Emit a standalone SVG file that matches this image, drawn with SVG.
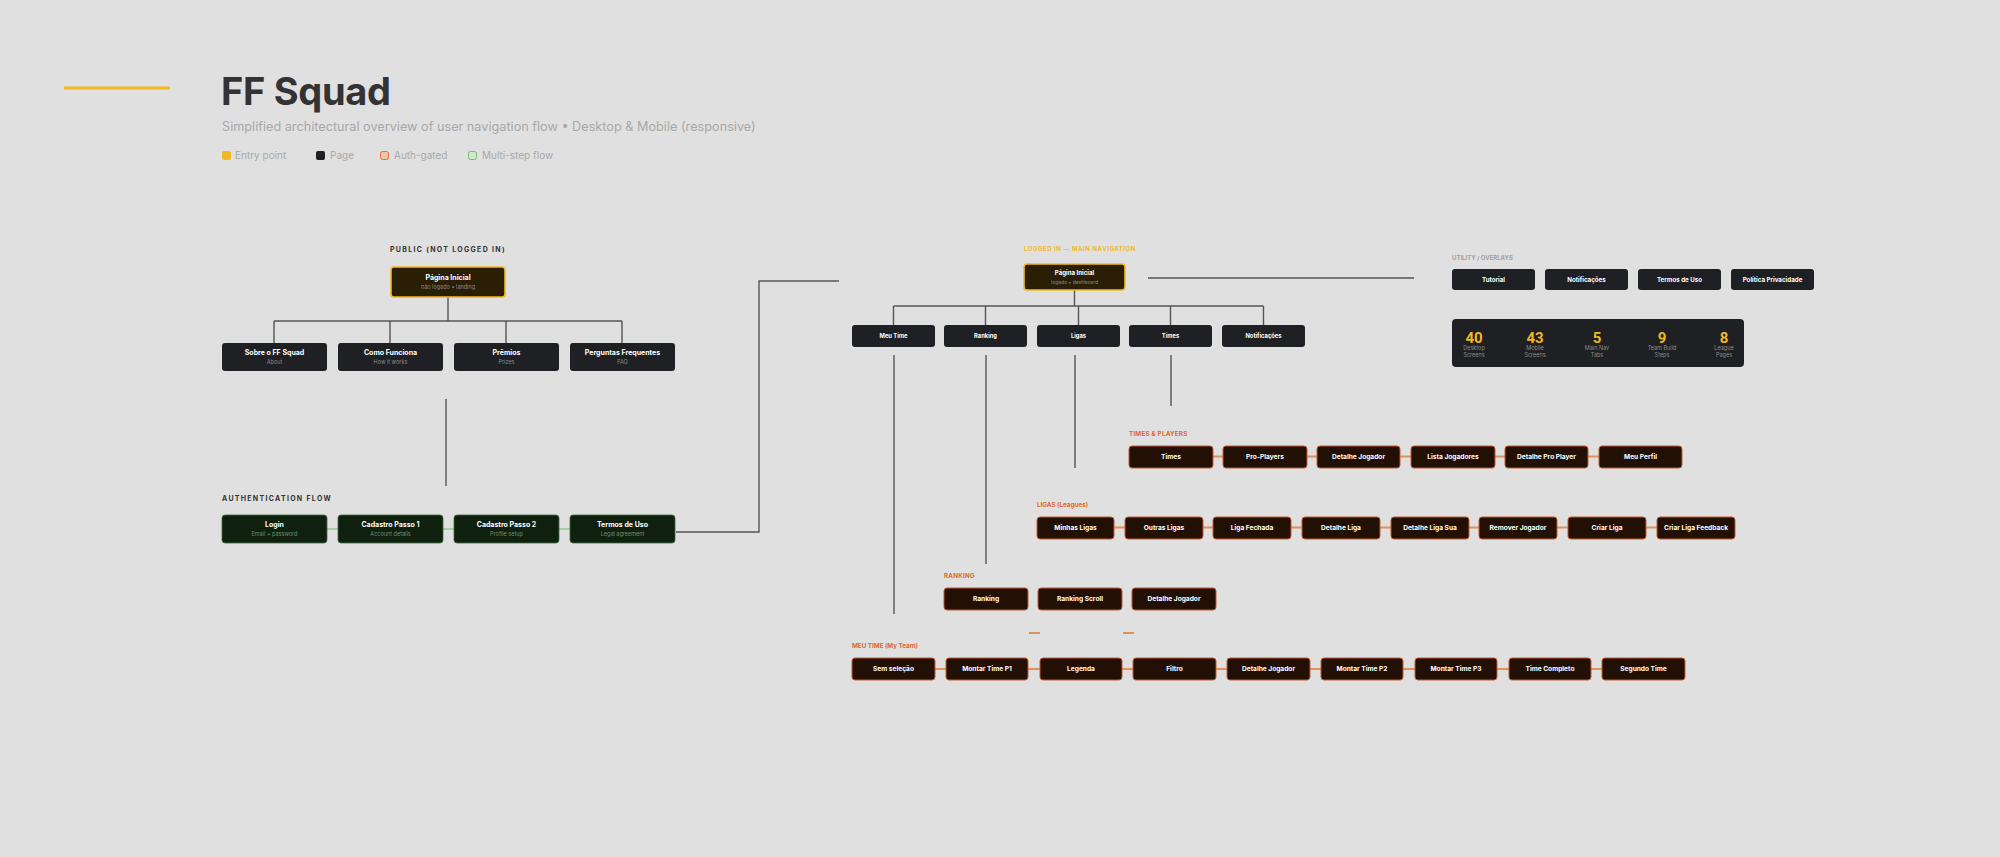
<svg xmlns="http://www.w3.org/2000/svg" width="2000" height="857" viewBox="0 0 2000 857">
<style>
text{font-family:Inter,"Noto Sans","Liberation Sans",sans-serif}
.title{font-size:38px;font-weight:700;fill:#333;letter-spacing:-0.3px}
.sub{font-size:12.7px;fill:#a8a8a8}
.leg{font-size:10px;fill:#a8a8a8}
.sec{font-size:7px;font-weight:700;letter-spacing:1.3px}
.secd{fill:#333}
.secy{fill:#f2b824}
.secg{fill:#a0a0a0}
.seco{fill:#e0672a;letter-spacing:0.2px}
.page{fill:#1f2023}
.entry{fill:#2a1f04;stroke:#f2b824;stroke-width:1.6}
.auth{fill:#0f200f;stroke:#3d6b3d;stroke-width:0.8}
.sub-node{fill:#231005;stroke:#c4582a;stroke-width:1}
.nt{font-size:7px;font-weight:700;fill:#fff;text-anchor:middle}
.ns{font-size:5.5px;fill:#8a8a8a;text-anchor:middle}
.nsg{font-size:5.5px;fill:#6f8f6f;text-anchor:middle}
.nn{font-size:5.8px;font-weight:700;fill:#fff;text-anchor:middle}
.nt7{font-size:6.6px;font-weight:700;fill:#fff;text-anchor:middle}
.nu{font-size:6.2px;font-weight:700;fill:#fff;text-anchor:middle}
.num{font-family:"Liberation Sans Narrow",Roboto,sans-serif;font-size:15px;font-weight:700;fill:#f2b824;text-anchor:middle}
.sl{font-size:5.5px;fill:#8a8a8a;text-anchor:middle}
.ln{stroke:#555;stroke-width:1.4;fill:none}
.lg{stroke:#8fcc8f;stroke-width:1.6;fill:none}
.lo{stroke:#e0905a;stroke-width:1.8;fill:none}
</style>
<rect width="2000" height="857" fill="#e0e0e0"/>

<g id="header">
<rect x="64" y="86.5" width="106" height="3" fill="#f2b824"/>
<text class="title" x="221" y="105">FF Squad</text>
<text class="sub" x="222" y="131">Simplified architectural overview of user navigation flow • Desktop &amp; Mobile (responsive)</text>
<rect x="222" y="151" width="9" height="9" rx="2" fill="#f2b824"/>
<text class="leg" x="235" y="159">Entry point</text>
<rect x="316" y="151" width="9" height="9" rx="2" fill="#1f2023"/>
<text class="leg" x="330" y="159">Page</text>
<rect x="380.5" y="151.5" width="8" height="8" rx="2" fill="#f0c4a8" stroke="#e07040" stroke-width="1"/>
<text class="leg" x="394" y="159">Auth-gated</text>
<rect x="468.5" y="151.5" width="8" height="8" rx="2" fill="#cfe8cf" stroke="#6fbf6f" stroke-width="1"/>
<text class="leg" x="482" y="159">Multi-step flow</text>
</g>

<g id="connectors">
<path class="ln" d="M448 297V321M274 321H622M274 321V343M390 321V343M506 321V343M622 321V343"/>
<path class="ln" d="M446 399V486"/>
<path class="lg" d="M327 529H338M443 529H454M559 529H570"/>
<path class="ln" d="M676 532H759V281H839"/>
<path class="ln" d="M1148 278H1414"/>
<path class="ln" d="M1074.5 290V306M893.5 306H1263.5M893.5 306V325M985.5 306V325M1078.5 306V325M1170.5 306V325M1263.5 306V325"/>
<path class="ln" d="M894 355V614M986 355V564M1075 355V468M1171 355V406"/>
<path class="lo" d="M1213 456.5H1223M1307 456.5H1317M1400 456.5H1411M1495 456.5H1505M1588 456.5H1599"/>
<path class="lo" d="M1114 527.5H1125M1203 527.5H1213M1291 527.5H1302M1380 527.5H1391M1469 527.5H1479M1557 527.5H1568M1646 527.5H1657"/>
<path class="lo" d="M1029 633H1040M1123 633H1134"/>
<path class="lo" d="M935 669H946M1028 669H1040M1122 669H1133M1216 669H1227M1310 669H1321M1403 669H1415M1497 669H1509M1591 669H1602"/>
</g>

<g id="public">
<text class="sec secd" x="390" y="252">PUBLIC (NOT LOGGED IN)</text>
<g id="p-home"><rect class="entry" x="391" y="267" width="114" height="30" rx="3"/><text class="nt" x="448" y="280">Página Inicial</text><text class="ns" x="448" y="289">não logado • landing</text></g>
<g id="p-sobre"><rect class="page" x="222" y="343" width="105" height="28" rx="3"/><text class="nt" x="274.5" y="355">Sobre o FF Squad</text><text class="ns" x="274.5" y="364">About</text></g>
<g id="p-como"><rect class="page" x="338" y="343" width="105" height="28" rx="3"/><text class="nt" x="390.5" y="355">Como Funciona</text><text class="ns" x="390.5" y="364">How it works</text></g>
<g id="p-premios"><rect class="page" x="454" y="343" width="105" height="28" rx="3"/><text class="nt" x="506.5" y="355">Prêmios</text><text class="ns" x="506.5" y="364">Prizes</text></g>
<g id="p-faq"><rect class="page" x="570" y="343" width="105" height="28" rx="3"/><text class="nt" x="622.5" y="355">Perguntas Frequentes</text><text class="ns" x="622.5" y="364">FAQ</text></g>
</g>

<g id="auth">
<text class="sec secd" x="222" y="501">AUTHENTICATION FLOW</text>
<g id="a-login"><rect class="auth" x="222" y="515" width="105" height="28" rx="3"/><text class="nt" x="274.5" y="527">Login</text><text class="nsg" x="274.5" y="536">Email + password</text></g>
<g id="a-cad1"><rect class="auth" x="338" y="515" width="105" height="28" rx="3"/><text class="nt" x="390.5" y="527">Cadastro Passo 1</text><text class="nsg" x="390.5" y="536">Account details</text></g>
<g id="a-cad2"><rect class="auth" x="454" y="515" width="105" height="28" rx="3"/><text class="nt" x="506.5" y="527">Cadastro Passo 2</text><text class="nsg" x="506.5" y="536">Profile setup</text></g>
<g id="a-termos"><rect class="auth" x="570" y="515" width="105" height="28" rx="3"/><text class="nt" x="622.5" y="527">Termos de Uso</text><text class="nsg" x="622.5" y="536">Legal agreement</text></g>
</g>

<g id="main-nav">
<text class="sec secy" x="1024" y="251" style="font-size:6px;letter-spacing:0.55px">LOGGED IN — MAIN NAVIGATION</text>
<g id="m-home"><rect class="entry" x="1024" y="264" width="101" height="26" rx="3"/><text class="nt" x="1074.5" y="275" style="font-size:6.1px">Página Inicial</text><text class="ns" x="1074.5" y="284" style="font-size:5px">logado • dashboard</text></g>
<g id="n-meutime"><rect class="page" x="852" y="325" width="83" height="22" rx="3"/><text class="nn" x="893.5" y="338">Meu Time</text></g>
<g id="n-ranking"><rect class="page" x="944" y="325" width="83" height="22" rx="3"/><text class="nn" x="985.5" y="338">Ranking</text></g>
<g id="n-ligas"><rect class="page" x="1037" y="325" width="83" height="22" rx="3"/><text class="nn" x="1078.5" y="338">Ligas</text></g>
<g id="n-times"><rect class="page" x="1129" y="325" width="83" height="22" rx="3"/><text class="nn" x="1170.5" y="338">Times</text></g>
<g id="n-notif"><rect class="page" x="1222" y="325" width="83" height="22" rx="3"/><text class="nn" x="1263.5" y="338">Notificações</text></g>
</g>

<g id="utility">
<text class="sec secg" x="1452" y="260" style="letter-spacing:0;font-size:6px">UTILITY / OVERLAYS</text>
<g id="u-tutorial"><rect class="page" x="1452" y="269" width="83" height="21" rx="3"/><text class="nu" x="1493.5" y="281.5">Tutorial</text></g>
<g id="u-notif"><rect class="page" x="1545" y="269" width="83" height="21" rx="3"/><text class="nu" x="1586.5" y="281.5">Notificações</text></g>
<g id="u-termos"><rect class="page" x="1638" y="269" width="83" height="21" rx="3"/><text class="nu" x="1679.5" y="281.5">Termos de Uso</text></g>
<g id="u-politica"><rect class="page" x="1731" y="269" width="83" height="21" rx="3"/><text class="nu" x="1772.5" y="281.5">Política Privacidade</text></g>
<g id="stats">
<rect class="page" x="1452" y="319" width="292" height="48" rx="4"/>
<text class="num" x="1474" y="343">40</text><text class="sl" x="1474" y="350">Desktop</text><text class="sl" x="1474" y="356.5">Screens</text>
<text class="num" x="1535" y="343">43</text><text class="sl" x="1535" y="350">Mobile</text><text class="sl" x="1535" y="356.5">Screens</text>
<text class="num" x="1597" y="343">5</text><text class="sl" x="1597" y="350">Main Nav</text><text class="sl" x="1597" y="356.5">Tabs</text>
<text class="num" x="1662" y="343">9</text><text class="sl" x="1662" y="350">Team Build</text><text class="sl" x="1662" y="356.5">Steps</text>
<text class="num" x="1724" y="343">8</text><text class="sl" x="1724" y="350">League</text><text class="sl" x="1724" y="356.5">Pages</text>
</g>
</g>

<g id="times-players">
<text class="sec seco" x="1129" y="436" style="font-size:6.3px">TIMES &amp; PLAYERS</text>
<g id="t1"><rect class="sub-node" x="1129" y="446" width="84" height="22" rx="3"/><text class="nt7" x="1171" y="459.3">Times</text></g>
<g id="t2"><rect class="sub-node" x="1223" y="446" width="84" height="22" rx="3"/><text class="nt7" x="1265" y="459.3">Pro-Players</text></g>
<g id="t3"><rect class="sub-node" x="1317" y="446" width="83" height="22" rx="3"/><text class="nt7" x="1358.5" y="459.3">Detalhe Jogador</text></g>
<g id="t4"><rect class="sub-node" x="1411" y="446" width="84" height="22" rx="3"/><text class="nt7" x="1453" y="459.3">Lista Jogadores</text></g>
<g id="t5"><rect class="sub-node" x="1505" y="446" width="83" height="22" rx="3"/><text class="nt7" x="1546.5" y="459.3">Detalhe Pro Player</text></g>
<g id="t6"><rect class="sub-node" x="1599" y="446" width="83" height="22" rx="3"/><text class="nt7" x="1640.5" y="459.3">Meu Perfil</text></g>
</g>

<g id="ligas">
<text class="sec seco" x="1037" y="507" style="font-size:6.3px;letter-spacing:0">LIGAS (Leagues)</text>
<g id="l1"><rect class="sub-node" x="1037" y="517" width="77" height="22" rx="3"/><text class="nt7" x="1075.5" y="530.3">Minhas Ligas</text></g>
<g id="l2"><rect class="sub-node" x="1125" y="517" width="78" height="22" rx="3"/><text class="nt7" x="1164" y="530.3">Outras Ligas</text></g>
<g id="l3"><rect class="sub-node" x="1213" y="517" width="78" height="22" rx="3"/><text class="nt7" x="1252" y="530.3">Liga Fechada</text></g>
<g id="l4"><rect class="sub-node" x="1302" y="517" width="78" height="22" rx="3"/><text class="nt7" x="1341" y="530.3">Detalhe Liga</text></g>
<g id="l5"><rect class="sub-node" x="1391" y="517" width="78" height="22" rx="3"/><text class="nt7" x="1430" y="530.3">Detalhe Liga Sua</text></g>
<g id="l6"><rect class="sub-node" x="1479" y="517" width="78" height="22" rx="3"/><text class="nt7" x="1518" y="530.3">Remover Jogador</text></g>
<g id="l7"><rect class="sub-node" x="1568" y="517" width="78" height="22" rx="3"/><text class="nt7" x="1607" y="530.3">Criar Liga</text></g>
<g id="l8"><rect class="sub-node" x="1657" y="517" width="78" height="22" rx="3"/><text class="nt7" x="1696" y="530.3">Criar Liga Feedback</text></g>
</g>

<g id="ranking">
<text class="sec seco" x="944" y="578" style="font-size:6.3px">RANKING</text>
<g id="r1"><rect class="sub-node" x="944" y="588" width="84" height="22" rx="3"/><text class="nt7" x="986" y="601.3">Ranking</text></g>
<g id="r2"><rect class="sub-node" x="1038" y="588" width="84" height="22" rx="3"/><text class="nt7" x="1080" y="601.3">Ranking Scroll</text></g>
<g id="r3"><rect class="sub-node" x="1132" y="588" width="84" height="22" rx="3"/><text class="nt7" x="1174" y="601.3">Detalhe Jogador</text></g>
</g>

<g id="meu-time">
<text class="sec seco" x="852" y="648" style="font-size:6.3px;letter-spacing:0">MEU TIME (My Team)</text>
<g id="m1"><rect class="sub-node" x="852" y="658" width="83" height="22" rx="3"/><text class="nt7" x="893.5" y="671.3">Sem seleção</text></g>
<g id="m2"><rect class="sub-node" x="946" y="658" width="82" height="22" rx="3"/><text class="nt7" x="987" y="671.3">Montar Time P1</text></g>
<g id="m3"><rect class="sub-node" x="1040" y="658" width="82" height="22" rx="3"/><text class="nt7" x="1081" y="671.3">Legenda</text></g>
<g id="m4"><rect class="sub-node" x="1133" y="658" width="83" height="22" rx="3"/><text class="nt7" x="1174.5" y="671.3">Filtro</text></g>
<g id="m5"><rect class="sub-node" x="1227" y="658" width="83" height="22" rx="3"/><text class="nt7" x="1268.5" y="671.3">Detalhe Jogador</text></g>
<g id="m6"><rect class="sub-node" x="1321" y="658" width="82" height="22" rx="3"/><text class="nt7" x="1362" y="671.3">Montar Time P2</text></g>
<g id="m7"><rect class="sub-node" x="1415" y="658" width="82" height="22" rx="3"/><text class="nt7" x="1456" y="671.3">Montar Time P3</text></g>
<g id="m8"><rect class="sub-node" x="1509" y="658" width="82" height="22" rx="3"/><text class="nt7" x="1550" y="671.3">Time Completo</text></g>
<g id="m9"><rect class="sub-node" x="1602" y="658" width="83" height="22" rx="3"/><text class="nt7" x="1643.5" y="671.3">Segundo Time</text></g>
</g>
</svg>
